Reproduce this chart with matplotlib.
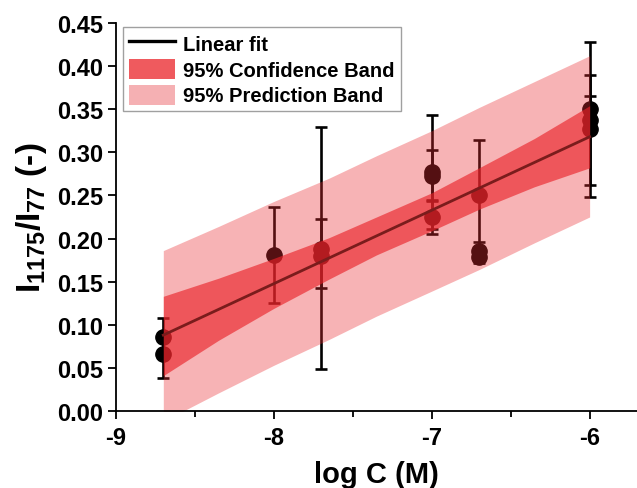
import matplotlib
matplotlib.use("Agg")
import matplotlib.pyplot as plt
from matplotlib.lines import Line2D
from matplotlib.patches import Patch
from matplotlib.ticker import MultipleLocator, FormatStrFormatter

plt.rcParams['font.family'] = ['Liberation Sans', 'DejaVu Sans']
plt.rcParams['font.weight'] = 'bold'
plt.rcParams['axes.unicode_minus'] = False
plt.rcParams['mathtext.fontset'] = 'custom'
plt.rcParams['mathtext.rm'] = 'Liberation Sans:bold'
plt.rcParams['mathtext.it'] = 'Liberation Sans:bold'
plt.rcParams['mathtext.bf'] = 'Liberation Sans:bold'

# measured points (log C, ratio) with error bar ends
log_c = [-8.7, -8.7, -8.0, -7.7, -7.7, -7.0, -7.0, -7.0, -6.7, -6.7, -6.7, -6.0, -6.0, -6.0]
ratio = [0.086, 0.066, 0.181, 0.188, 0.180, 0.277, 0.273, 0.225, 0.251, 0.186, 0.179, 0.327, 0.338, 0.350]
err_low = [0.064, 0.038, 0.125, 0.143, 0.049, 0.211, 0.244, 0.205, 0.188, 0.176, 0.172, 0.262, 0.248, 0.335]
err_high = [0.108, 0.090, 0.237, 0.223, 0.329, 0.343, 0.303, 0.245, 0.314, 0.196, 0.186, 0.390, 0.428, 0.365]

# linear fit and bands
fit_x = [-8.7, -6.0]
fit_y = [0.088, 0.318]
band_x = [-8.7, -8.35, -8.0, -7.65, -7.35, -7.0, -6.7, -6.35, -6.0]
conf_low = [0.041, 0.082, 0.119, 0.153, 0.181, 0.209, 0.234, 0.260, 0.282]
conf_high = [0.133, 0.154, 0.177, 0.201, 0.225, 0.253, 0.282, 0.316, 0.354]
pred_low = [-0.012, 0.021, 0.053, 0.083, 0.110, 0.139, 0.164, 0.195, 0.225]
pred_high = [0.186, 0.214, 0.243, 0.270, 0.296, 0.325, 0.352, 0.382, 0.412]

fig = plt.figure(figsize=(6.37, 4.89), dpi=100)
ax = fig.add_axes([0.182, 0.1575, 0.818, 0.7935])

yerr = [[r - lo for r, lo in zip(ratio, err_low)], [hi - r for r, hi in zip(ratio, err_high)]]
ax.errorbar(log_c, ratio, yerr=yerr, fmt='o', color='black', ms=11,
            ecolor='black', elinewidth=1.9, capsize=4.5, capthick=1.9, zorder=1)

ax.fill_between(band_x, pred_low, pred_high, color='#eb2d32', alpha=0.36, lw=0, zorder=2)
ax.fill_between(band_x, conf_low, conf_high, color='#ea2228', alpha=0.64, lw=0, zorder=3)
ax.plot(fit_x, fit_y, color='#7a1c1c', lw=2, zorder=4)

ax.set_xlim(-9, -5.7)
ax.set_ylim(0, 0.45)
ax.xaxis.set_major_locator(MultipleLocator(1))
ax.xaxis.set_minor_locator(MultipleLocator(0.5))
ax.yaxis.set_major_locator(MultipleLocator(0.05))
ax.yaxis.set_major_formatter(FormatStrFormatter('%.2f'))
ax.spines['top'].set_visible(False)
ax.spines['right'].set_visible(False)
for s in ['left', 'bottom']:
    ax.spines[s].set_linewidth(1.3)
ax.tick_params(which='major', direction='out', length=6, width=1.3, labelsize=17, pad=3)
ax.tick_params(axis='x', which='major', pad=5)
ax.tick_params(which='minor', direction='out', length=4, width=1.3)

ax.set_xlabel('log C (M)', fontsize=21, fontweight='bold', labelpad=8)
ax.set_ylabel(r'$I_{1175}/I_{77}$ (-)', fontsize=24, fontweight='bold', labelpad=6)

handles = [Line2D([], [], color='black', lw=2.4),
           Patch(facecolor='#ef5a5e', edgecolor='none'),
           Patch(facecolor='#f5b0b3', edgecolor='none')]
labels = ['Linear fit', '95% Confidence Band', '95% Prediction Band']
leg = ax.legend(handles, labels, loc='upper left', bbox_to_anchor=(0.013, 0.99),
                fontsize=14.5, frameon=True, fancybox=False, edgecolor='#888888',
                handlelength=2.3, handleheight=1.15, labelspacing=0.25,
                handletextpad=0.4, borderpad=0.3, borderaxespad=0)
leg.get_frame().set_linewidth(1.0)

fig.savefig('out.png', dpi=100)
